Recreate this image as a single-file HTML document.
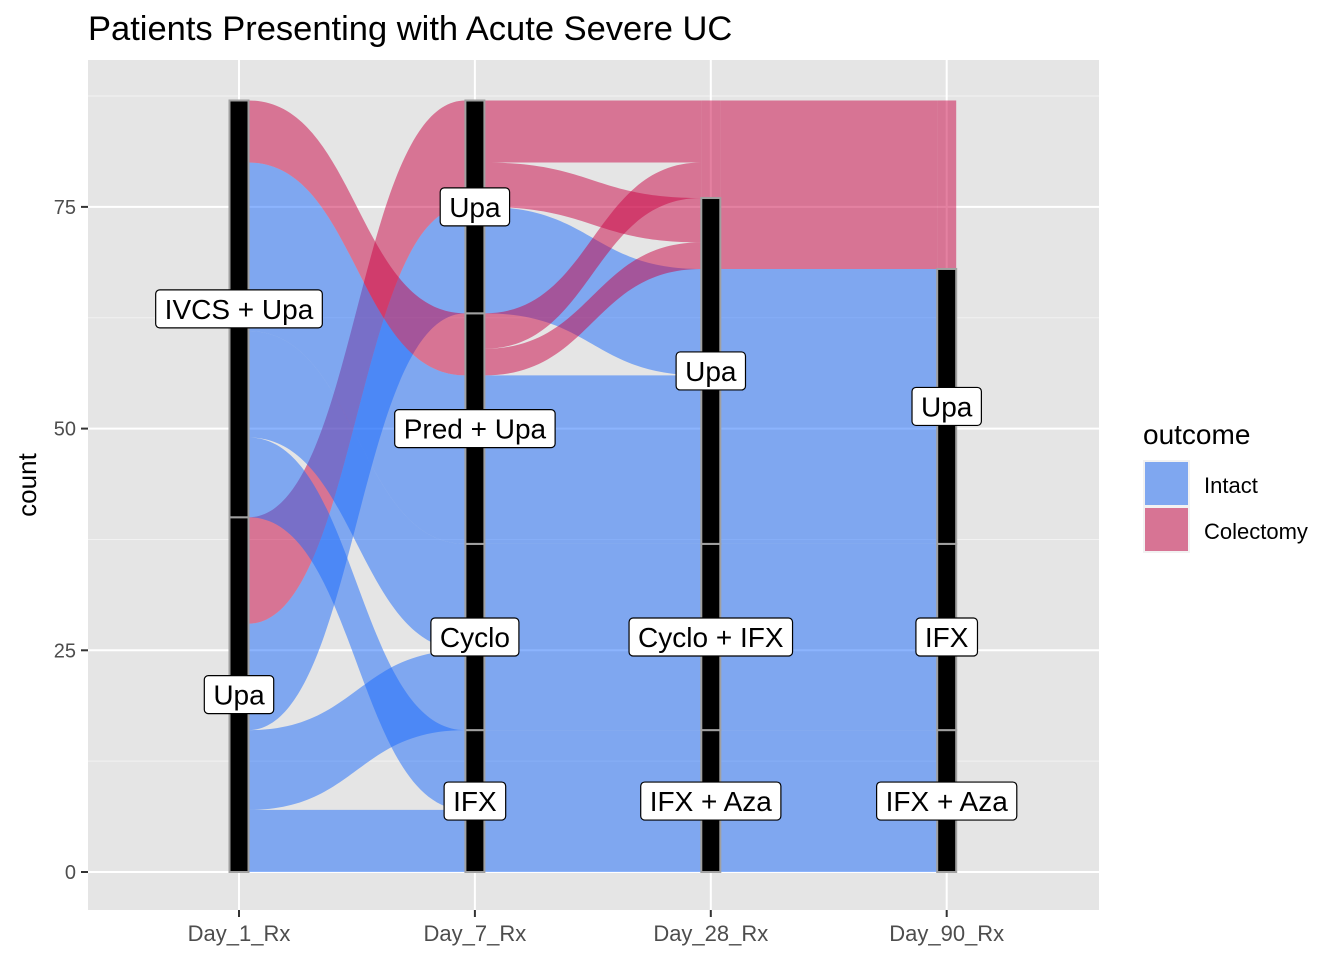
<!DOCTYPE html>
<html><head><meta charset="utf-8"><style>
body{margin:0;background:#fff;}
svg{display:block;font-family:"Liberation Sans",Arial,sans-serif;}
</style></head><body>
<svg id="chart" width="1344" height="960" viewBox="0 0 1344 960">
<text x="88" y="40" font-size="34.5" fill="#000">Patients Presenting with Acute Severe UC</text>
<rect x="88" y="60" width="1011" height="850" fill="#E5E5E5"/>
<g id="grid"></g>
<g id="flows"></g>
<g id="strata"></g>
<g id="labels"></g>
<g id="axes"></g>
<g>
<text x="1143" y="444" font-size="28" fill="#000">outcome</text>
<rect x="1143" y="460" width="47" height="47" fill="#F2F2F2"/>
<rect x="1145" y="462" width="43" height="43" fill="#7FA7F0"/>
<text x="1204" y="493" font-size="22" fill="#000">Intact</text>
<rect x="1143" y="506" width="47" height="47" fill="#F2F2F2"/>
<rect x="1145" y="508" width="43" height="43" fill="#D77494"/>
<text x="1204" y="539" font-size="22" fill="#000">Colectomy</text>
</g>
</svg>
<script>
const axes = ["Day_1_Rx","Day_7_Rx","Day_28_Rx","Day_90_Rx"];
const yTicks = [0,25,50,75];
// strata: [axisIndex, label, lo, hi]
const strata = [
 [0,"Upa",0,40],[0,"IVCS + Upa",40,87],
 [1,"IFX",0,16],[1,"Cyclo",16,37],[1,"Pred + Upa",37,63],[1,"Upa",63,87],
 [2,"IFX + Aza",0,16],[2,"Cyclo + IFX",16,37],[2,"Upa",37,76],
 [3,"IFX + Aza",0,16],[3,"IFX",16,37],[3,"Upa",37,68]
];
const labelY = [20,63.5, 8,26.5,50,75, 8,26.5,56.5, 8,26.5,52.5];
// unlabeled (NA) strata filled by flow colour: [axisIndex, lo, hi]
const naStrata = [[2,76,87],[3,68,87]];
// flows: [fromAxis, fromLo, fromHi, toLo, toHi, outcome]
const flows = [
 [0,0,7,0,7,"I"],[0,7,16,16,25,"I"],[0,16,28,63,75,"I"],[0,28,40,75,87,"C"],
 [0,40,49,7,16,"I"],[0,49,61,25,37,"I"],[0,61,80,37,56,"I"],[0,80,87,56,63,"C"],
 [1,0,16,0,16,"I"],[1,16,37,16,37,"I"],[1,37,56,37,56,"I"],[1,63,75,56,68,"I"],
 [1,56,59,68,71,"C"],[1,75,80,71,76,"C"],[1,59,63,76,80,"C"],[1,80,87,80,87,"C"],
 [2,0,16,0,16,"I"],[2,16,37,16,37,"I"],[2,37,68,37,68,"I"],[2,68,87,68,87,"C"]
];
const NS="http://www.w3.org/2000/svg";
const X0=239, DX=235.9, Y0=872, PY=8.868, HW=9.5;
const xs=i=>X0+i*DX, ys=v=>Y0-v*PY;
const BLUE='rgb(25,105,251)', RED='rgb(201,3,67)';
function mk(tag,attrs,parent){const e=document.createElementNS(NS,tag);for(const k in attrs)e.setAttribute(k,attrs[k]);parent.appendChild(e);return e;}
const grid=document.getElementById('grid');
[12.5,37.5,62.5,87.5].forEach(v=>{const l=mk('line',{x1:88,x2:1099,y1:ys(v),y2:ys(v),stroke:'#F2F2F2','stroke-width':1},grid);

});
yTicks.forEach(v=>{const l=mk('line',{x1:88,x2:1099,y1:ys(v),y2:ys(v),stroke:'#fff','stroke-width':2},grid);

});
axes.forEach((a,i)=>{const l=mk('line',{x1:xs(i),x2:xs(i),y1:60,y2:910,stroke:'#fff','stroke-width':2},grid);

});
const fg=document.getElementById('flows');
flows.forEach(f=>{
 const xa=xs(f[0])+HW, xb=xs(f[0]+1)-HW, xm=(xa+xb)/2;
 const a1=ys(f[1]),a2=ys(f[2]),b1=ys(f[3]),b2=ys(f[4]);
 const d=`M${xa},${a2} C${xm},${a2} ${xm},${b2} ${xb},${b2} L${xb},${b1} C${xm},${b1} ${xm},${a1} ${xa},${a1} Z`;
 const p=mk('path',{d:d,fill:f[5]==="I"?BLUE:RED,'fill-opacity':0.5},fg);
 
 
});
naStrata.forEach(s=>{
 const r=mk('rect',{x:xs(s[0])-HW,y:ys(s[2]),width:2*HW,height:ys(s[1])-ys(s[2]),fill:RED,'fill-opacity':0.5},fg);
 
 
});
const sg=document.getElementById('strata'), lg=document.getElementById('labels');
strata.forEach((s,k)=>{
 const r=mk('rect',{x:xs(s[0])-HW,y:ys(s[3]),width:2*HW,height:ys(s[2])-ys(s[3]),fill:'#000',stroke:'#A0A0A0','stroke-width':2},sg);
 
 
});
strata.forEach((s,k)=>{
 const cx=xs(s[0]), cy=ys(labelY[k]);
 const t=mk('text',{x:cx,y:cy+10,'font-size':28,'text-anchor':'middle',fill:'#000'},lg);
 t.textContent=s[1];
 
 
 const w=t.getComputedTextLength()+18;
 const b=mk('rect',{x:cx-w/2,y:cy-19,width:w,height:38,rx:4,fill:'#fff',stroke:'#000','stroke-width':1.2},lg);
 
 
 lg.insertBefore(b,t);
});
const ax=document.getElementById('axes');
yTicks.forEach(v=>{
 const l=mk('line',{x1:81,x2:88,y1:ys(v),y2:ys(v),stroke:'#333','stroke-width':2},ax);
 
 
 const t=mk('text',{x:76,y:ys(v)+7,'font-size':20,'text-anchor':'end',fill:'#4D4D4D'},ax);
 t.textContent=v;
 
 
});
axes.forEach((a,i)=>{
 const l=mk('line',{x1:xs(i),x2:xs(i),y1:910,y2:917,stroke:'#333','stroke-width':2},ax);
 
 
 const t=mk('text',{x:xs(i),y:941,'font-size':22,'text-anchor':'middle',fill:'#4D4D4D'},ax);
 t.textContent=a;
 
 
});
const yt=mk('text',{x:36,y:485,'font-size':26,'text-anchor':'middle',fill:'#000',transform:'rotate(-90 36 485)'},ax);
yt.textContent='count';


</script>
</body></html>
